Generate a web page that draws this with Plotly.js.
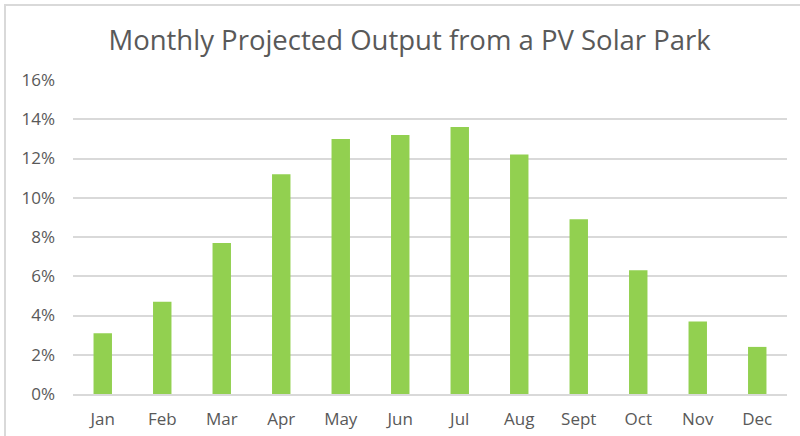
<!DOCTYPE html>
<html>
<head>
<meta charset="utf-8">
<script src="https://cdn.plot.ly/plotly-3.0.1.min.js"></script>
<style>
  html, body { margin: 0; padding: 0; background: #fff; }
  #chart { width: 800px; height: 436px; }
</style>
</head>
<body>
<div id="chart"></div>
<script>
const months = ["Jan", "Feb", "Mar", "Apr", "May", "Jun", "Jul", "Aug", "Sept", "Oct", "Nov", "Dec"];
const output = [0.031, 0.047, 0.077, 0.112, 0.130, 0.132, 0.136, 0.122, 0.089, 0.063, 0.037, 0.024];
const yTicks = [0, 0.02, 0.04, 0.06, 0.08, 0.10, 0.12, 0.14, 0.16];
const yTickLabels = ["0%", "2%", "4%", "6%", "8%", "10%", "12%", "14%", "16%"];

const W = 800, H = 436, L = 73, R = 13, T = 80, B = 42;
const pw = W - L - R, ph = H - T - B;
const px = v => (v - L) / pw;
const py = v => 1 - (v - T) / ph;

const trace = {
  type: "bar",
  x: months,
  y: output,
  marker: { color: "#92D050", line: { width: 0 } },
  hoverinfo: "x+y"
};

const layout = {
  width: W, height: H,
  margin: { l: L, r: R, t: T, b: B, pad: 0 },
  paper_bgcolor: "#ffffff",
  plot_bgcolor: "#ffffff",
  bargap: 0.69,
  showlegend: false,
  font: { family: "Open Sans, Noto Sans, sans-serif", color: "#595959" },
  title: {
    text: "Monthly Projected Output from a PV Solar Park",
    font: { size: 27.5, color: "#595959", family: "Open Sans, sans-serif" },
    x: 0.512, xanchor: "center",
    y: 1 - 40 / H, yanchor: "middle"
  },
  xaxis: {
    type: "category",
    showgrid: false,
    showline: true, linecolor: "#D9D9D9", linewidth: 2,
    ticks: "", ticklabelstandoff: 9,
    tickfont: { size: 17, color: "#595959" }
  },
  yaxis: {
    range: [0, 0.16],
    tickvals: yTicks,
    ticktext: yTickLabels,
    showgrid: true, gridcolor: "#D9D9D9", gridwidth: 2,
    zeroline: false, showline: false,
    ticks: "", ticklabelstandoff: 17,
    tickfont: { size: 17, color: "#595959" }
  },
  shapes: [{
    type: "path", xref: "paper", yref: "paper",
    path: `M ${px(5)} ${py(440)} L ${px(5)} ${py(5)} L ${px(805)} ${py(5)}`,
    line: { color: "#D9D9D9", width: 2 }
  }]
};

Plotly.newPlot("chart", [trace], layout, { displayModeBar: false, staticPlot: false });
</script>
</body>
</html>
